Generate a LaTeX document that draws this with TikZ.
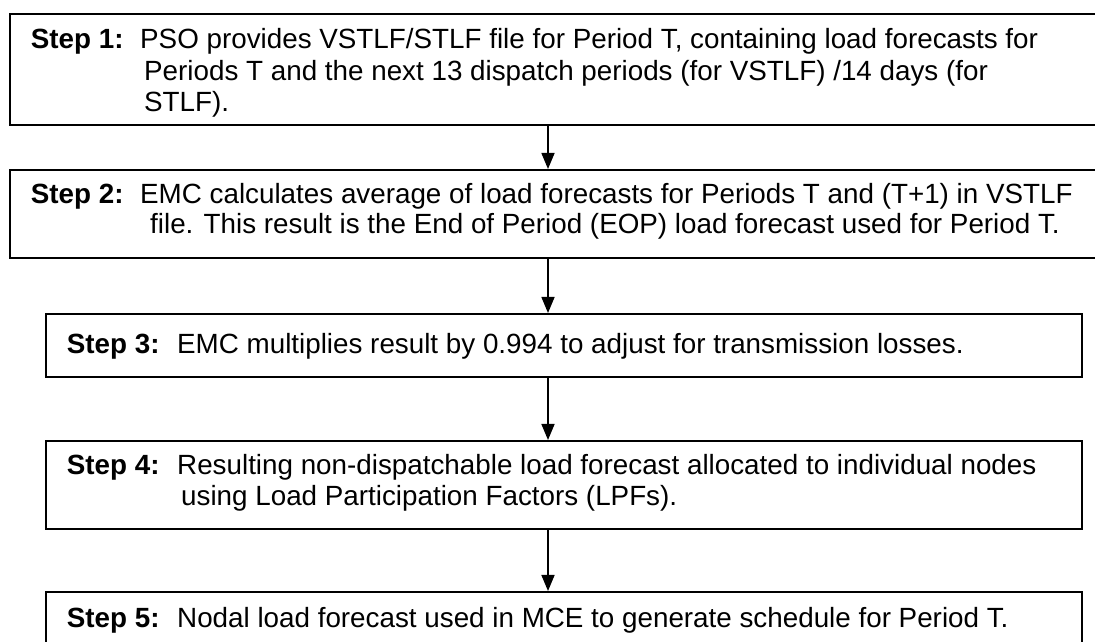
\documentclass[tikz,border=0pt]{standalone}
\usepackage{fontspec}
\setmainfont{Liberation Sans}
\usetikzlibrary{arrows.meta}

\begin{document}
\begin{tikzpicture}[x=1pt,y=1pt,
  stepbox/.style={draw, line width=1.6pt, inner sep=0pt, anchor=north west},
  lbl/.style={anchor=base west, inner sep=0pt, font=\bfseries\fontsize{27.8}{31}\selectfont},
  txt/.style={anchor=base west, inner sep=0pt, font=\fontsize{27.8}{31}\selectfont},
  arr/.style={line width=1.6pt, -{Triangle[length=16pt,width=13pt]}}
]

% ============================================================
% 参数区
% ============================================================

\def\ArrX{548}     % 箭头的横坐标
\def\TxtX{140}     % 上两块正文起点
\def\SubX{177}     % 下三块正文起点

\useasboundingbox (0,0) rectangle (1095,642);
\clip (0,0) rectangle (1095,642);

\coordinate (ax) at (\ArrX,0);

% ============================================================
% Step 1（右边超出画面）
% ============================================================

\node[stepbox, minimum width=1100pt, minimum height=111pt] (step1) at (9,629) {};
\node[lbl] (lbl1) at (30.7,593) {Step 1:};
\node[txt] (t1a) at (\TxtX,593) {PSO provides VSTLF/STLF file for Period T, containing load forecasts for};
\node[txt] (t1b) at (144,561) {Periods T and the next 13 dispatch periods (for VSTLF) /14 days (for};
\node[txt] (t1c) at (144,530) {STLF).};

% ============================================================
% Step 2
% ============================================================

\node[stepbox, minimum width=1100pt, minimum height=88pt] (step2) at (9,473) {};
\node[lbl] (lbl2) at (30.7,438) {Step 2:};
\node[txt] (t2a) at (\TxtX,438) {EMC calculates average of load forecasts for Periods T and (T+1) in VSTLF};
\node[txt] (t2b) at (150,408) {file. This result is the End of Period (EOP) load forecast used for Period T.};

% ============================================================
% Step 3
% ============================================================

\node[stepbox, minimum width=1036pt, minimum height=63pt] (step3) at (45,329) {};
\node[lbl] (lbl3) at (66.7,288) {Step 3:};
\node[txt] (t3a) at (\SubX,288) {EMC multiplies result by 0.994 to adjust for transmission losses.};

% ============================================================
% Step 4
% ============================================================

\node[stepbox, minimum width=1036pt, minimum height=88pt] (step4) at (45,202) {};
\node[lbl] (lbl4) at (66.7,167) {Step 4:};
\node[txt] (t4a) at (\SubX,167) {Resulting non-dispatchable load forecast allocated to individual nodes};
\node[txt] (t4b) at (181,136) {using Load Participation Factors (LPFs).};

% ============================================================
% Step 5（下边超出画面）
% ============================================================

\node[stepbox, minimum width=1036pt, minimum height=80pt] (step5) at (45,51) {};
\node[lbl] (lbl5) at (66.7,14) {Step 5:};
\node[txt] (t5a) at (\SubX,14) {Nodal load forecast used in MCE to generate schedule for Period T.};

% ============================================================
% 箭头
% ============================================================

\draw[arr] (step1.south -| ax) -- (step2.north -| ax);
\draw[arr] (step2.south -| ax) -- (step3.north -| ax);
\draw[arr] (step3.south -| ax) -- (step4.north -| ax);
\draw[arr] (step4.south -| ax) -- (step5.north -| ax);

\end{tikzpicture}
\end{document}
